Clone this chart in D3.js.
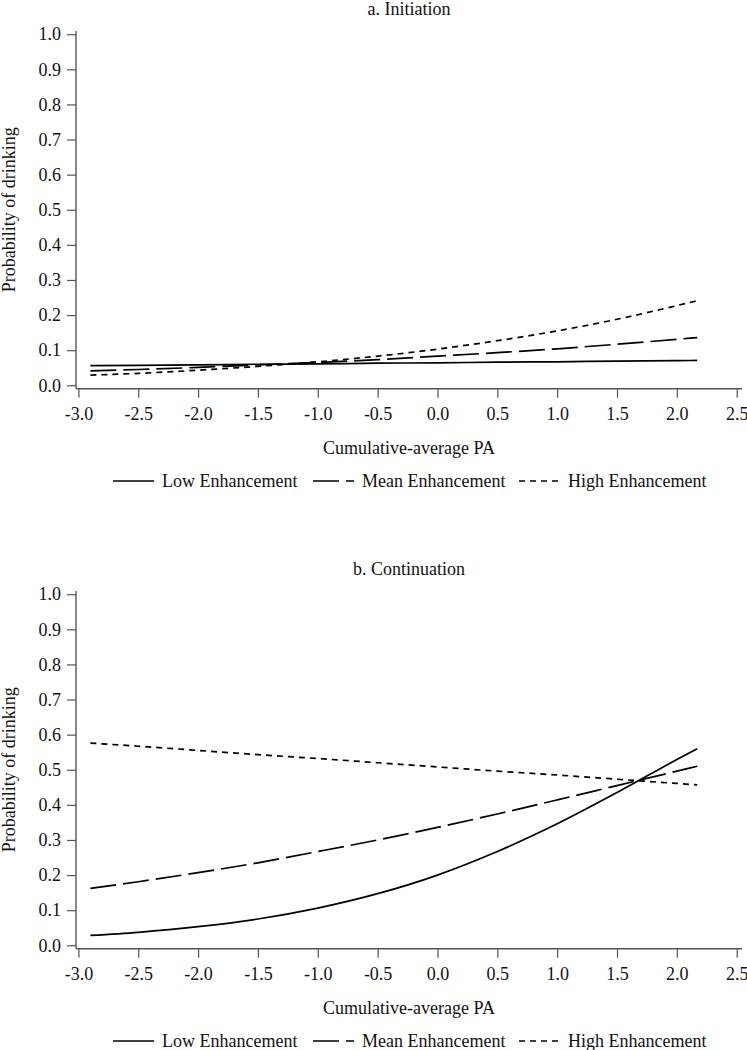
<!DOCTYPE html>
<html>
<head>
<meta charset="utf-8">
<script src="https://cdn.jsdelivr.net/npm/d3@7"></script>
<style>
  html, body { margin: 0; padding: 0; background: #fff; }
  svg { display: block; }
  text { font-family: "Liberation Serif", "Times New Roman", Times, "DejaVu Serif", serif; fill: #111; }
</style>
</head>
<body>
<svg id="chart" width="747" height="1050"></svg>
<script>
// ---------- data ----------
const xValues = [-2.9, -2.5, -2.0, -1.5, -1.0, -0.5, 0.0, 0.5, 1.0, 1.5, 2.0, 2.17];

const initLow  = [0.056, 0.057, 0.058, 0.060, 0.061, 0.063, 0.064, 0.066, 0.067, 0.069, 0.070, 0.071];
const initMean = [0.041, 0.045, 0.051, 0.058, 0.065, 0.073, 0.083, 0.093, 0.104, 0.117, 0.131, 0.136];
const initHigh = [0.029, 0.034, 0.043, 0.054, 0.067, 0.083, 0.103, 0.127, 0.155, 0.188, 0.227, 0.241];

const contLow  = [0.028, 0.037, 0.053, 0.075, 0.106, 0.147, 0.200, 0.267, 0.346, 0.435, 0.529, 0.560];
const contMean = [0.162, 0.181, 0.207, 0.235, 0.267, 0.300, 0.336, 0.374, 0.414, 0.455, 0.496, 0.510];
const contHigh = [0.576, 0.567, 0.555, 0.543, 0.532, 0.520, 0.508, 0.496, 0.485, 0.473, 0.461, 0.457];

const xTicks = [-3.0, -2.5, -2.0, -1.5, -1.0, -0.5, 0.0, 0.5, 1.0, 1.5, 2.0, 2.5];
const yTicks = [0.0, 0.1, 0.2, 0.3, 0.4, 0.5, 0.6, 0.7, 0.8, 0.9, 1.0];

const seriesNames = ["Low Enhancement", "Mean Enhancement", "High Enhancement"];
const panelTitles = ["a. Initiation", "b. Continuation"];
const xTitle = "Cumulative-average PA";
const yTitle = "Probability of drinking";

// ---------- drawing ----------
const FONT = '"Liberation Serif", "Times New Roman", Times, "DejaVu Serif", serif';
const svg = d3.select("#chart");
svg.append("rect").attr("width", 747).attr("height", 1050).attr("fill", "#fff");

const dashes = [null, "26,7", "6,5"];
const axisColor = "#555";
const fmt = d => d.toFixed(1);
const x = d3.scaleLinear().domain([-3, 2.5]).range([78.4, 736.7]);

const panels = [
  { title: panelTitles[0], series: [initLow, initMean, initHigh], off: 0 },
  { title: panelTitles[1], series: [contLow, contMean, contHigh], off: 560 }
];

panels.forEach(p => {
  const g = svg.append("g").attr("transform", `translate(0,${p.off})`);
  const y = d3.scaleLinear().domain([0, 1]).range([385.3, 34.2]);
  const axisY = 388.7, axisX = 76;

  // title
  g.append("text").attr("x", 409).attr("y", 14.5).attr("text-anchor", "middle")
    .attr("font-size", 18).text(p.title);

  // x axis
  const xa = g.append("g").attr("transform", `translate(0,${axisY})`)
    .call(d3.axisBottom(x).tickValues(xTicks).tickFormat(fmt)
      .tickSize(9).tickSizeOuter(0).tickPadding(10));
  xa.attr("font-family", FONT);
  xa.select(".domain").remove();
  xa.selectAll(".tick line").attr("stroke", axisColor).attr("stroke-width", 1.2);
  xa.selectAll(".tick text").attr("font-size", 18).attr("fill", "#111");
  g.append("line").attr("x1", axisX).attr("x2", 742).attr("y1", axisY).attr("y2", axisY)
    .attr("stroke", axisColor).attr("stroke-width", 1.4);

  // y axis
  const ya = g.append("g").attr("transform", `translate(${axisX},0)`)
    .call(d3.axisLeft(y).tickValues(yTicks).tickFormat(fmt)
      .tickSize(9).tickSizeOuter(0).tickPadding(6));
  ya.attr("font-family", FONT);
  ya.select(".domain").remove();
  ya.selectAll(".tick line").attr("stroke", axisColor).attr("stroke-width", 1.2);
  ya.selectAll(".tick text").attr("font-size", 18).attr("fill", "#111");
  g.append("line").attr("x1", axisX).attr("x2", axisX).attr("y1", 31).attr("y2", axisY)
    .attr("stroke", axisColor).attr("stroke-width", 1.4);

  // axis titles
  g.append("text").attr("x", 409).attr("y", 453.5).attr("text-anchor", "middle")
    .attr("font-size", 18).text(xTitle);
  g.append("text").attr("transform", `translate(14.5,${(y(0) + y(1)) / 2}) rotate(-90)`)
    .attr("text-anchor", "middle").attr("font-size", 18).text(yTitle);

  // lines
  const line = d3.line().x((d, i) => x(xValues[i])).y(d => y(d)).curve(d3.curveMonotoneX);
  p.series.forEach((s, i) => {
    g.append("path").datum(s).attr("d", line).attr("fill", "none")
      .attr("stroke", "#000").attr("stroke-width", 1.7)
      .attr("stroke-dasharray", dashes[i]);
  });

  // legend
  const legX = [113, 313, 519];
  seriesNames.forEach((name, i) => {
    const ly = 481;
    g.append("line").attr("x1", legX[i]).attr("x2", legX[i] + 41).attr("y1", ly).attr("y2", ly)
      .attr("stroke", "#000").attr("stroke-width", 1.7).attr("stroke-dasharray", dashes[i]);
    g.append("text").attr("x", legX[i] + 49).attr("y", 487).attr("font-size", 18).text(name);
  });
});
</script>
</body>
</html>
